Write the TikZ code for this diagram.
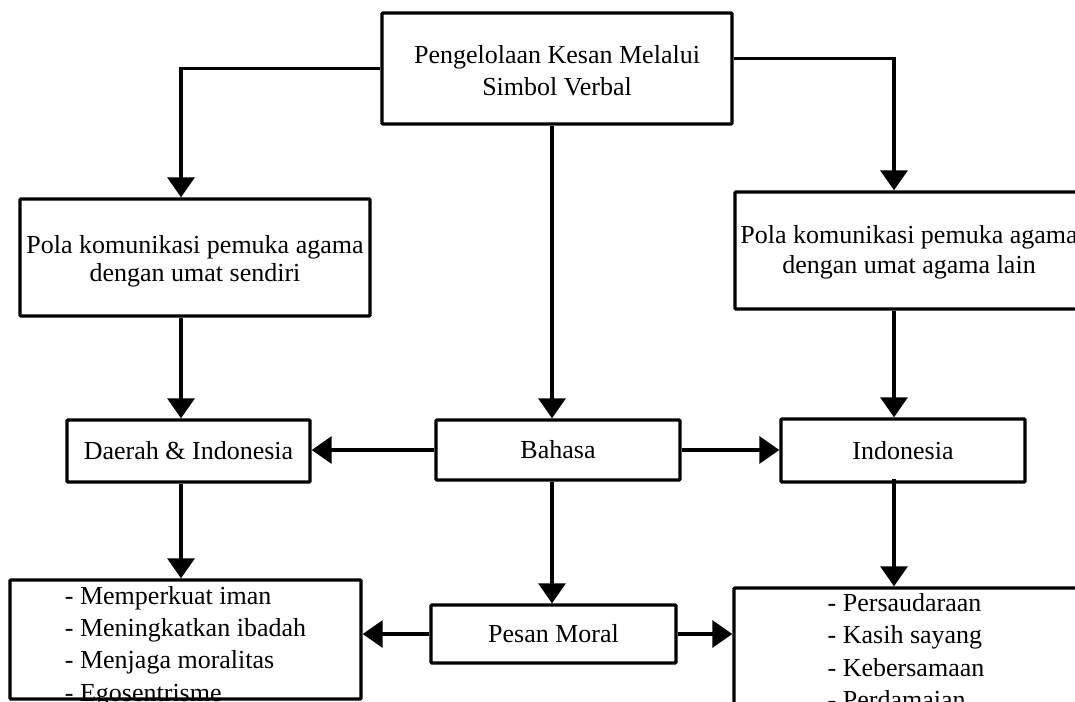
\documentclass[tikz,border=0pt]{standalone}
\usepackage{fontspec}
\setmainfont{Liberation Serif}
\usetikzlibrary{arrows.meta}

\tikzset{
  box/.style={draw, line width=3.4pt, rounded corners=1pt, inner sep=0pt, fill=white,
              font=\fontsize{26}{30}\selectfont, align=center},
  boxtext/.style={inner sep=0pt, align=center, font=\fontsize{26}{29}\selectfont},
  listtext/.style={inner sep=0pt, align=left, font=\fontsize{26}{32.3}\selectfont},
  arr/.style={line width=3.4pt, -{Triangle[length=20pt,width=27pt]}},
}

\begin{document}
\begin{tikzpicture}[x=1pt, y=-1pt]
  \useasboundingbox (0,0) rectangle (1075,701);
  \fill[white] (0,0) rectangle (1075,701);
  \clip (0,0) rectangle (1075,701);

  % connector columns
  \coordinate (cl) at (181,0);
  \coordinate (cm) at (552,0);
  \coordinate (cr) at (894,0);

  % boxes
  \node[box, minimum width=350pt, minimum height=111pt] (top) at (557,68.5) {};
  \node[boxtext, font=\fontsize{26}{32}\selectfont] (toptext)
        at ([yshift=-2pt]top.center) {Pengelolaan Kesan Melalui\\Simbol Verbal};

  \node[box, minimum width=350pt, minimum height=117pt] (lpola) at (195,257.5) {};
  \node[boxtext, font=\fontsize{26}{28.5}\selectfont] (lpolatext)
        at ([yshift=-4pt]lpola.center) {Pola komunikasi pemuka agama\\dengan umat sendiri};

  \node[box, minimum width=348pt, minimum height=117pt] (rpola) at (909,250.5) {};
  \node[boxtext, font=\fontsize{26}{30}\selectfont] (rpolatext)
        at ([yshift=-2pt]rpola.center) {Pola komunikasi pemuka agama\\dengan umat agama lain};

  \node[box, minimum width=243pt, minimum height=62pt] (daerah) at (188.5,451) {Daerah \& Indonesia};
  \node[box, minimum width=244pt, minimum height=60pt] (bahasa) at (558,450) {Bahasa};
  \node[box, minimum width=244pt, minimum height=63pt] (indo) at (903,450.5) {Indonesia};

  \node[box, minimum width=351pt, minimum height=119pt] (llist) at (185.5,639.5) {};
  \node[box, minimum width=245pt, minimum height=58pt] (pesan) at (553.5,634) {Pesan Moral};
  \node[box, minimum width=344pt, minimum height=120pt] (rlist) at (906,648) {};

  \node[listtext] (llisttext) at ([yshift=-7pt]llist.center)
    {- Memperkuat iman\\- Meningkatkan ibadah\\- Menjaga moralitas\\- Egosentrisme};
  \node[listtext, font=\fontsize{26}{32.5}\selectfont] (rlisttext) at ([yshift=-3pt]rlist.center)
    {- Persaudaraan\\- Kasih sayang\\- Kebersamaan\\- Perdamaian};

  % connectors
  \draw[arr] (top.west) -| (cl |- lpola.north);
  \draw[arr] ([yshift=10pt]top.east) -| (cr |- rpola.north);
  \draw[arr] (cm |- top.south) -- (cm |- bahasa.north);
  \draw[arr] (cl |- lpola.south) -- (cl |- daerah.north);
  \draw[arr] (cr |- rpola.south) -- (cr |- indo.north);
  \draw[arr] (bahasa.west) -- (daerah.east |- bahasa.west);
  \draw[arr] (bahasa.east) -- (indo.west |- bahasa.east);
  \draw[arr] (cm |- bahasa.south) -- (cm |- pesan.north);
  \draw[arr] (cl |- daerah.south) -- (cl |- llist.north);
  \draw[arr] ([yshift=5pt]cr |- indo.south) -- (cr |- rlist.north);
  \draw[arr] (pesan.west) -- (llist.east |- pesan.west);
  \draw[arr] (pesan.east) -- (rlist.west |- pesan.east);
\end{tikzpicture}
\end{document}
